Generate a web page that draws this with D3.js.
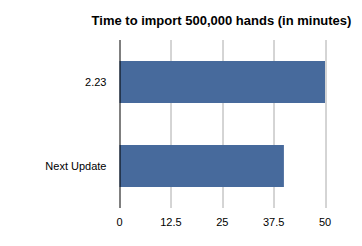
<!DOCTYPE html>
<html>
<head>
<meta charset="utf-8">
<script src="https://cdn.jsdelivr.net/npm/d3@7"></script>
<style>
  body { margin: 0; background: #fff; }
  text { font-family: "Liberation Sans", Arial, sans-serif; }
</style>
</head>
<body>
<svg id="chart" width="362" height="246"></svg>
<script>
let categories = ["2.23", "Next Update"]
let minutes = [50, 40]
let tickValues = [0, 12.5, 25, 37.5, 50]
let tickLabels = ["0", "12.5", "25", "37.5", "50"]
let title = "Time to import 500,000 hands (in minutes)"

let svg = d3.select("#chart")

//plot area
let margin = {top: 40, left: 119.5, right: 37, bottom: 38}
let width = 362 - margin.left - margin.right
let height = 246 - margin.top - margin.bottom

let body = svg.append("g")
	.attr("transform", "translate(" + margin.left + "," + margin.top + ")")

let xscale = d3.scaleLinear()
	.domain([0, 50])
	.range([0, 205.5])

let yscale = d3.scaleBand()
	.domain(categories)
	.range([0, height])
	.paddingInner(0.5)
	.paddingOuter(0.25)

//gridlines
body.append("g").selectAll("line")
	.data(tickValues.slice(1))
	.enter()
	.append("line")
	.attr("x1", d => Math.round(xscale(d)) + 0.5)
	.attr("x2", d => Math.round(xscale(d)) + 0.5)
	.attr("y1", 0)
	.attr("y2", height)
	.attr("stroke", "#aaaaaa")
	.attr("stroke-width", 1)

//bars
body.append("g").selectAll("rect")
	.data(categories)
	.enter()
	.append("rect")
	.attr("x", 0)
	.attr("y", d => yscale(d))
	.attr("width", (d, i) => xscale(minutes[i]))
	.attr("height", yscale.bandwidth())
	.attr("fill", "#476a9c")

//y axis line
body.append("line")
	.attr("x1", 0.5).attr("x2", 0.5)
	.attr("y1", 0).attr("y2", height)
	.attr("stroke", "#000")

//category labels
body.append("g").selectAll("text")
	.data(categories)
	.enter()
	.append("text")
	.attr("x", -13)
	.attr("y", d => yscale(d) + yscale.bandwidth() / 2)
	.attr("dy", "0.35em")
	.attr("text-anchor", "end")
	.style("font-size", "11px")
	.text(d => d)

//x tick labels
body.append("g").selectAll("text")
	.data(tickValues)
	.enter()
	.append("text")
	.attr("x", d => xscale(d))
	.attr("y", height + 14)
	.attr("dy", "0.35em")
	.attr("text-anchor", "middle")
	.style("font-size", "11px")
	.text((d, i) => tickLabels[i])

//title
svg.append("text")
	.attr("x", 221.5)
	.attr("y", 25)
	.attr("text-anchor", "middle")
	.style("font-size", "13px")
	.style("font-weight", "bold")
	.text(title)
</script>
</body>
</html>
